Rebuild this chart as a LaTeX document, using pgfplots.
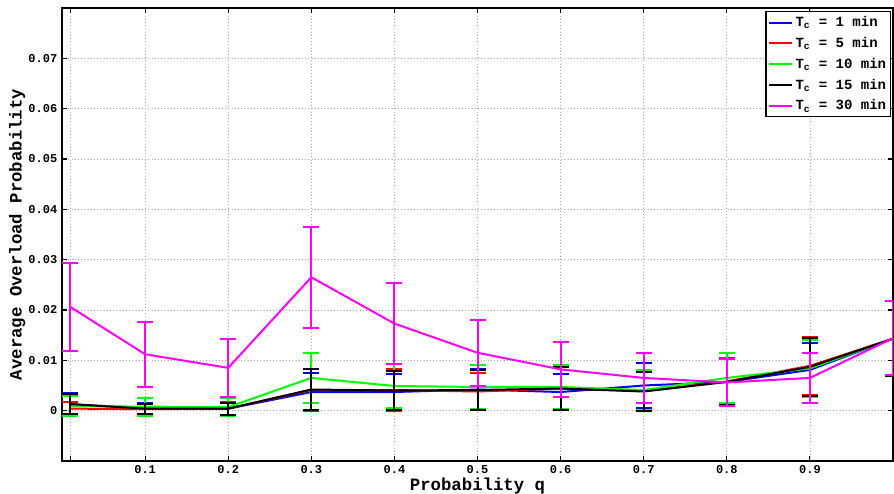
\documentclass[border=0pt]{standalone}
\usepackage{fontspec}
\setmainfont{Liberation Mono}
\usepackage{pgfplots}
\usepackage{pgfplotstable}
\pgfplotsset{compat=1.18}
\definecolor{mag}{RGB}{255,0,255}
\definecolor{grn}{RGB}{0,255,0}
\definecolor{blu}{RGB}{0,0,255}
\definecolor{rd}{RGB}{255,0,0}
\definecolor{blk}{RGB}{0,0,0}
\pgfplotstableread{
x y e
0.01 0.0013 0.0023
0.1 0.0004 0.0011
0.2 0.0004 0.0012
0.3 0.0037 0.0037
0.4 0.0037 0.0036
0.5 0.0042 0.0041
0.6 0.0037 0.0036
0.7 0.0050 0.0044
0.8 0.0057 0.0045
0.9 0.0081 0.0054
1.0 0.0143 0.0074
}\tblA
\pgfplotstableread{
x y e
0.01 0.0004 0.0013
0.1 0.0003 0.0011
0.2 0.0004 0.0013
0.3 0.0041 0.0041
0.4 0.0041 0.0041
0.5 0.0038 0.0036
0.6 0.0044 0.0043
0.7 0.0039 0.0038
0.8 0.0058 0.0046
0.9 0.0089 0.0058
1.0 0.0143 0.0074
}\tblB
\pgfplotstableread{
x y e
0.01 0.0009 0.0020
0.1 0.0008 0.0018
0.2 0.0007 0.0018
0.3 0.0065 0.0049
0.4 0.0049 0.0044
0.5 0.0047 0.0043
0.6 0.0047 0.0043
0.7 0.0041 0.0040
0.8 0.0065 0.0050
0.9 0.0084 0.0056
1.0 0.0143 0.0074
}\tblC
\pgfplotstableread{
x y e
0.01 0.0013 0.0020
0.1 0.0004 0.0010
0.2 0.0004 0.0012
0.3 0.0042 0.0041
0.4 0.0040 0.0039
0.5 0.0041 0.0040
0.6 0.0044 0.0042
0.7 0.0038 0.0038
0.8 0.0057 0.0046
0.9 0.0087 0.0058
1.0 0.0143 0.0074
}\tblD
\pgfplotstableread{
x y e
0.01 0.0206 0.0088
0.1 0.0112 0.0065
0.2 0.0085 0.0057
0.3 0.0265 0.0100
0.4 0.0173 0.0081
0.5 0.0115 0.0066
0.6 0.0082 0.0055
0.7 0.0065 0.0050
0.8 0.0056 0.0047
0.9 0.0065 0.0050
1.0 0.0144 0.0073
}\tblE
\pgfplotsset{
  eb/.style={draw=#1, color=#1, line width=1.5pt, error bars/.cd, y dir=both, y explicit,
    error bar style={draw=#1, color=#1, line width=1.5pt, solid},
    error mark options={rotate=90, mark size=6pt, line width=1.5pt, solid, draw=#1, color=#1}}
}
\begin{document}
\begin{tikzpicture}
\begin{axis}[name=ax, scale only axis, width=623.25pt, height=339.75pt,
  xmin=0, xmax=1, ymin=-0.01, ymax=0.08,
  xtick={0.01,0.1,0.2,0.3,0.4,0.5,0.6,0.7,0.8,0.9,1},
  xticklabels={,0.1,0.2,0.3,0.4,0.5,0.6,0.7,0.8,0.9,},
  ytick={0,0.01,0.02,0.03,0.04,0.05,0.06,0.07},
  yticklabels={0,0.01,0.02,0.03,0.04,0.05,0.06,0.07},
  scaled y ticks=false, scaled x ticks=false,
  /pgf/number format/assume math mode=true,
  tick label style={font=\bfseries\fontsize{9}{10}\selectfont, black},
  grid=major, grid style={dotted, gray!70, line width=0.6pt},
  axis line style={line width=0.9pt, black},
  major tick length=4pt, tick style={black, line width=0.8pt},
  xlabel={Probability q}, ylabel={Average Overload Probability},
  label style={font=\bfseries\fontsize{13}{15}\selectfont},
  xlabel style={at={(axis description cs:0.5,-0.034)}, anchor=north, inner sep=1pt},
  ylabel style={at={(axis description cs:-0.0385,0.5)}, anchor=south},
  legend style={at={(axis description cs:0.998,0.993)}, anchor=north east,
    draw=black, line width=0.9pt, fill=white,
    font=\bfseries\fontsize{10.5}{12}\selectfont, inner sep=1.5pt, row sep=2.5pt},
  legend image post style={line width=1.5pt},
  legend cell align=left,
]
\addplot[eb=blu] table[x=x, y=y, y error=e]{\tblA};
\addlegendentry{T\textsubscript{c} = 1 min}
\addplot[eb=rd] table[x=x, y=y, y error=e]{\tblB};
\addlegendentry{T\textsubscript{c} = 5 min}
\addplot[eb=grn] table[x=x, y=y, y error=e]{\tblC};
\addlegendentry{T\textsubscript{c} = 10 min}
\addplot[eb=blk] table[x=x, y=y, y error=e]{\tblD};
\addlegendentry{T\textsubscript{c} = 15 min}
\addplot[eb=mag] table[x=x, y=y, y error=e]{\tblE};
\addlegendentry{T\textsubscript{c} = 30 min}
\end{axis}
\pgfresetboundingbox
\path ([shift={(-46.5pt,-24.75pt)}]ax.south west) rectangle ([shift={(0.75pt,6pt)}]ax.north east);
\end{tikzpicture}
\end{document}
